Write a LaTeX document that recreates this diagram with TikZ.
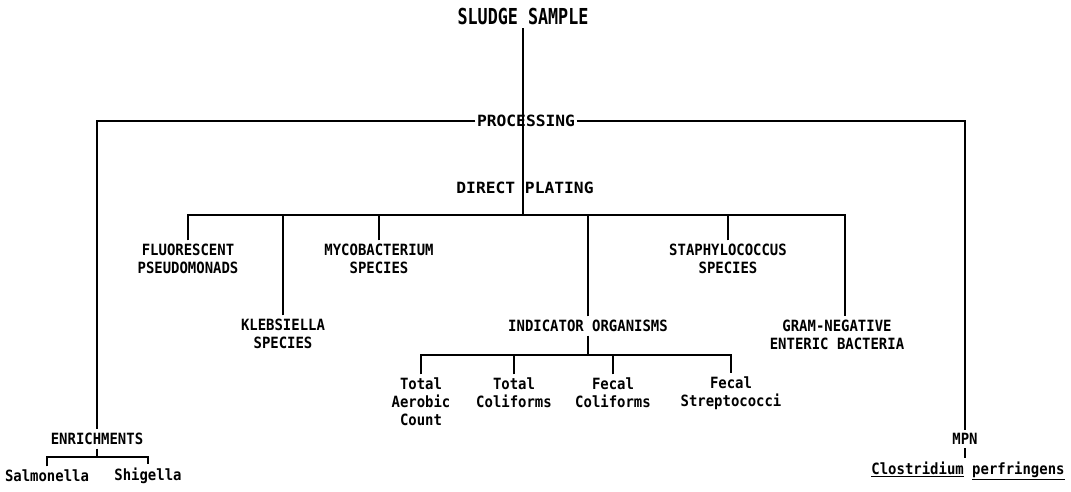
\documentclass[tikz,border=0pt]{standalone}
\usepackage{fontspec}
\usetikzlibrary{positioning,calc}
\newfontfamily\typefont[FakeStretch=0.9]{DejaVu Sans Mono}
\newfontfamily\widefont[FakeStretch=1.05]{DejaVu Sans Mono}
\newfontfamily\titlefont[FakeStretch=0.76]{DejaVu Sans Mono}

\begin{document}
\begin{tikzpicture}[x=1pt, y=-1pt, line width=1.4pt,
  lbl/.style={font={\fontsize{15.5}{18}\selectfont\typefont\bfseries}, align=center, inner sep=3pt},
  hdr/.style={font={\fontsize{15.5}{18}\selectfont\widefont\bfseries}, inner sep=1pt},
  ttl/.style={font={\fontsize{22}{24}\selectfont\titlefont\bfseries}, inner sep=3pt}]
\useasboundingbox (0,0) rectangle (1071,492);
% top of the tree
\node[ttl] (sludge) at (523,16) {SLUDGE SAMPLE};
\node[hdr] (proc)   at (526,121) {PROCESSING};
\node[hdr] (direct) at (525,188) {DIRECT PLATING};
% direct plating branches
\node[lbl] (fluor) at (188,259) {FLUORESCENT\\PSEUDOMONADS};
\node[lbl] (kleb)  at (283,334) {KLEBSIELLA\\SPECIES};
\node[lbl] (myco)  at (379,259) {MYCOBACTERIUM\\SPECIES};
\node[lbl] (indic) at (588,326) {INDICATOR ORGANISMS};
\node[lbl] (staph) at (728,259) {STAPHYLOCOCCUS\\SPECIES};
\node[lbl] (gram)  at (837,335) {GRAM-NEGATIVE\\ENTERIC BACTERIA};
% indicator organisms
\node[lbl] (tac)  at (421,402) {Total\\Aerobic\\Count};
\node[lbl] (tcol) at (514,393) {Total\\Coliforms};
\node[lbl] (fcol) at (613,393) {Fecal\\Coliforms};
\node[lbl] (fstr) at (731,393) {Fecal\\Streptococci};
% side branches
\node[lbl] (enrich) at (97,439)  {ENRICHMENTS};
\node[lbl] (salm)   at (47,476)  {Salmonella};
\node[lbl] (shig)   at (148,476) {Shigella};
\node[lbl] (mpn)    at (965,439) {MPN};
\node[lbl] (clos)   at (968,471) {\underline{Clostridium} \underline{perfringens}};
% bar coordinates
\coordinate (dpR)   at (845,215);
\coordinate (ibar)  at (588,355);
\coordinate (enbar) at (97,457);
% connectors
\draw (sludge.south) -- (sludge.south |- dpR);
\draw (proc.west) -| (enrich.north);
\draw (proc.east) -| (mpn.north);
\draw (fluor.north) |- (dpR) -- (dpR |- gram.north);
\draw (kleb.north) -- (kleb.north |- dpR);
\draw (myco.north) -- (myco.north |- dpR);
\draw (indic.north) -- (indic.north |- dpR);
\draw (staph.north) -- (staph.north |- dpR);
\draw (indic.south) -- (ibar);
\draw (tac.north) |- (ibar) -| (fstr.north);
\draw (tcol.north) -- (tcol.north |- ibar);
\draw (fcol.north) -- (fcol.north |- ibar);
\draw (enrich.south) -- (enbar);
\draw (salm.north) |- (enbar) -| (shig.north);
\draw (mpn.south) -- (mpn.south |- clos.north);
\end{tikzpicture}
\end{document}
